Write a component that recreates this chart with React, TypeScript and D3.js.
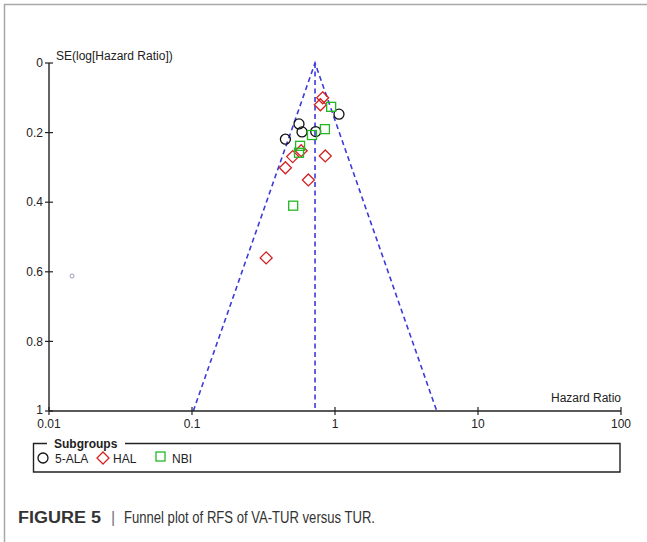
import React from "react";
import * as d3 from "d3";

const alaHR = [1.066, 0.56, 0.588, 0.733, 0.45];
const alaSE = [0.147, 0.175, 0.198, 0.197, 0.219];
const halHR = [0.82, 0.79, 0.58, 0.506, 0.855, 0.45, 0.651, 0.33];
const halSE = [0.1, 0.12, 0.252, 0.269, 0.267, 0.301, 0.336, 0.56];
const nbiHR = [0.94, 0.85, 0.69, 0.57, 0.56, 0.51];
const nbiSE = [0.126, 0.19, 0.207, 0.238, 0.258, 0.41];
const otherHR = [0.0145];
const otherSE = [0.612];
const pooledHR = 0.725;
const xTicks = [0.01, 0.1, 1, 10, 100];
const xTickLabels = ["0.01", "0.1", "1", "10", "100"];
const yTicks = [0, 0.2, 0.4, 0.6, 0.8, 1];
const yTickLabels = ["0", "0.2", "0.4", "0.6", "0.8", "1"];
const legendLabels = ["5-ALA", "HAL", "NBI"];

const FONT = "'Liberation Sans', Arial, sans-serif";

export default function App() {
  const x = d3.scaleLog().domain([0.01, 100]).range([49, 621]);
  const y = d3.scaleLinear().domain([0, 1]).range([63, 411]);
  const seMax = 1;
  const lo = pooledHR * Math.exp(-1.96 * seMax);
  const hi = pooledHR * Math.exp(1.96 * seMax);
  const funnel = d3.line<[number, number]>().x((d) => x(d[0])).y((d) => y(d[1]));

  const circles = alaHR.map((h, i) => ({ h, s: alaSE[i] }));
  const diamonds = halHR.map((h, i) => ({ h, s: halSE[i] }));
  const squares = nbiHR.map((h, i) => ({ h, s: nbiSE[i] }));
  const others = otherHR.map((h, i) => ({ h, s: otherSE[i] }));

  const dashStyle = { stroke: "#3b3bdc", strokeWidth: 1.6, strokeDasharray: "5,3.5", fill: "none" };
  const y0 = y(1);

  return (
    <svg width={647} height={542} style={{ position: "absolute", left: 0, top: 0, background: "#fff" }} fontFamily={FONT}>
      {/* frame */}
      <path d="M4.5,542 L4.5,4.5 L647,4.5" stroke="#a8a8a8" strokeWidth={1.5} fill="none" />

      {/* funnel */}
      <path d={funnel([[lo, 1], [pooledHR, 0], [hi, 1]]) || ""} style={dashStyle} />
      <path d={funnel([[pooledHR, 0], [pooledHR, 1]]) || ""} style={dashStyle} />

      {/* axes */}
      <line x1={x(0.01)} x2={x(0.01)} y1={y(0)} y2={y(1)} stroke="#222" strokeWidth={1.4} />
      <line x1={x(0.01)} x2={x(100)} y1={y0} y2={y0} stroke="#222" strokeWidth={1.4} />
      {yTicks.map((t, i) => (
        <g key={"y" + i}>
          <line x1={x(0.01) - 4} x2={x(0.01) + 4} y1={y(t)} y2={y(t)} stroke="#222" strokeWidth={1.2} />
          <text x={x(0.01) - 6} y={y(t) - (t === 1 ? 1 : 0)} dy="0.35em" textAnchor="end" fontSize={12} fill="#222">{yTickLabels[i]}</text>
        </g>
      ))}
      {xTicks.map((t, i) => (
        <g key={"x" + i}>
          <line x1={x(t)} x2={x(t)} y1={y0 - 4} y2={y0 + 4} stroke="#222" strokeWidth={1.2} />
          <text x={x(t)} y={y0 + 13} dy="0.35em" textAnchor="middle" fontSize={12} fill="#222">{xTickLabels[i]}</text>
        </g>
      ))}
      <text x={x(0.01) + 7} y={y(0) - 7} dy="0.35em" fontSize={12} fill="#222">SE(log[Hazard Ratio])</text>
      <text x={x(100)} y={y0 - 9} textAnchor="end" fontSize={12} fill="#222">Hazard Ratio</text>

      {/* points */}
      {others.map((d, i) => (
        <circle key={"o" + i} cx={x(d.h)} cy={y(d.s)} r={2} fill="none" stroke="#9a9ab8" strokeWidth={1} />
      ))}
      {circles.map((d, i) => (
        <circle key={"c" + i} cx={x(d.h)} cy={y(d.s)} r={5} fill="none" stroke="#111" strokeWidth={1.3} />
      ))}
      {diamonds.map((d, i) => {
        const cx = x(d.h), cy = y(d.s), r = 6;
        return <path key={"d" + i} d={`M${cx},${cy - r}L${cx + r},${cy}L${cx},${cy + r}L${cx - r},${cy}Z`} fill="none" stroke="#d42020" strokeWidth={1.3} />;
      })}
      {squares.map((d, i) => (
        <rect key={"s" + i} x={x(d.h) - 4.5} y={y(d.s) - 4.5} width={9} height={9} fill="none" stroke="#22b822" strokeWidth={1.3} />
      ))}

      {/* legend */}
      <path d="M47,443.5 L33.5,443.5 L33.5,472 L620,472 L620,443.5 L125,443.5" stroke="#222" strokeWidth={1.4} fill="none" />
      <text x={54} y={444} dy="0.35em" fontSize={12} fontWeight="bold" fill="#222">Subgroups</text>
      <circle cx={43} cy={458} r={5} fill="none" stroke="#111" strokeWidth={1.3} />
      <text x={55} y={459} dy="0.35em" fontSize={12} fill="#222">{legendLabels[0]}</text>
      <path d="M103,452 L109,458 L103,464 L97,458 Z" fill="none" stroke="#d42020" strokeWidth={1.3} />
      <text x={113} y={459} dy="0.35em" fontSize={12} fill="#222">{legendLabels[1]}</text>
      <rect x={156} y={452} width={9} height={9} fill="none" stroke="#22b822" strokeWidth={1.3} />
      <text x={172} y={459} dy="0.35em" fontSize={12} fill="#222">{legendLabels[2]}</text>

      {/* caption */}
      <text x={18} y={523} fontSize={16} fontWeight="bold" fill="#333" textLength={83} lengthAdjust="spacingAndGlyphs">FIGURE 5</text>
      <text x={111} y={523} fontSize={16} fill="#777">|</text>
      <text x={124} y={523} fontSize={16} fill="#333" textLength={251} lengthAdjust="spacingAndGlyphs">Funnel plot of RFS of VA-TUR versus TUR.</text>
    </svg>
  );
}
